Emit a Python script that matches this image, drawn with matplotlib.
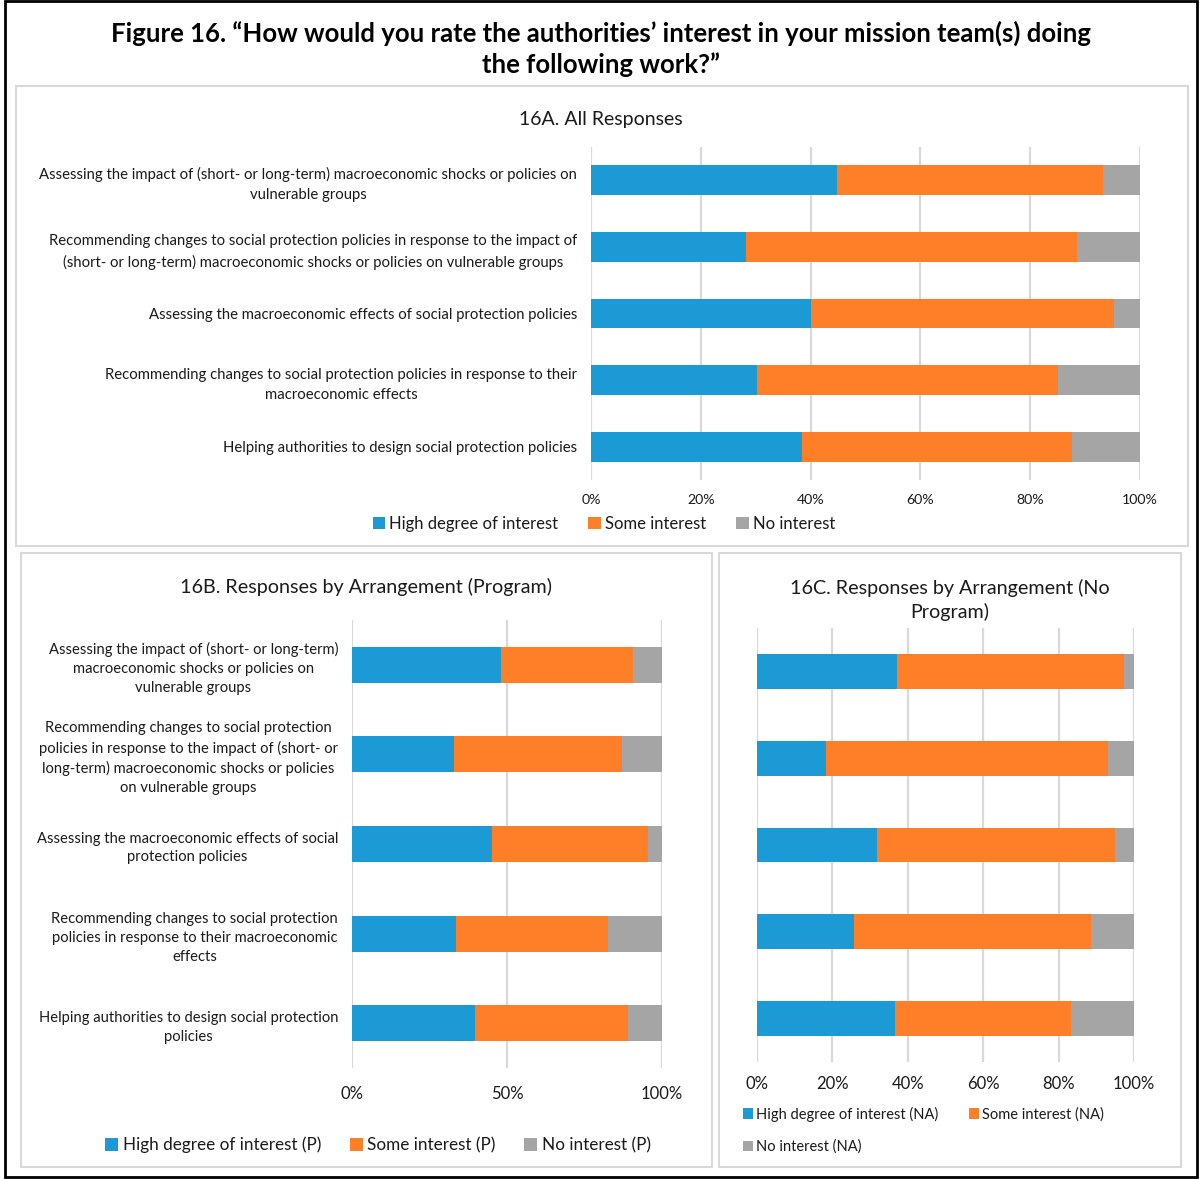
import matplotlib
matplotlib.use("Agg")
import matplotlib.pyplot as plt
from matplotlib.patches import Rectangle, Patch
import numpy as np

plt.rcParams['font.family'] = ['Lato', 'DejaVu Sans']

W, H = 1201, 1179

categories_a = [
    "Assessing the impact of (short- or long-term) macroeconomic shocks or policies on\nvulnerable groups",
    "Recommending changes to social protection policies in response to the impact of\n(short- or long-term) macroeconomic shocks or policies on vulnerable groups",
    "Assessing the macroeconomic effects of social protection policies",
    "Recommending changes to social protection policies in response to their\nmacroeconomic effects",
    "Helping authorities to design social protection policies",
]
categories_b = [
    "Assessing the impact of (short- or long-term)\nmacroeconomic shocks or policies on\nvulnerable groups",
    "Recommending changes to social protection\npolicies in response to the impact of (short- or\nlong-term) macroeconomic shocks or policies\non vulnerable groups",
    "Assessing the macroeconomic effects of social\nprotection policies",
    "Recommending changes to social protection\npolicies in response to their macroeconomic\neffects",
    "Helping authorities to design social protection\npolicies",
]

# Shares (%) per category
all_high = [44.8, 28.2, 40.0, 30.2, 38.5]
all_some = [48.5, 60.4, 55.3, 54.9, 49.1]
all_none = [6.7, 11.4, 4.7, 14.9, 12.4]

prog_high = [48.1, 32.9, 45.3, 33.5, 39.8]
prog_some = [42.7, 54.2, 50.1, 49.2, 49.1]
prog_none = [9.2, 12.9, 4.6, 17.3, 11.1]

noprog_high = [37.2, 18.4, 31.9, 25.8, 36.7]
noprog_some = [60.1, 74.8, 63.0, 62.9, 46.6]
noprog_none = [2.7, 6.8, 5.1, 11.3, 16.7]

series_names = ["High degree of interest", "Some interest", "No interest"]
colors = ["#1b9ad6", "#fe7f27", "#a5a5a5"]
grid_color = "#d9d9d9"
text_color = "#1a1a1a"

fig = plt.figure(figsize=(W / 100, H / 100), dpi=100)


def fx(x):
    return x / W


def fy(y):
    return 1 - y / H


def add_axes_px(left, top, right, bottom):
    return fig.add_axes([fx(left), fy(bottom), (right - left) / W, (bottom - top) / H])


def panel_box(left, top, right, bottom, color="#d9d9d9", lw=1.5):
    fig.patches.append(Rectangle((fx(left), fy(bottom)), (right - left) / W, (bottom - top) / H,
                                 transform=fig.transFigure, fill=False, edgecolor=color,
                                 linewidth=lw))


def stacked(ax, cats, high, some, none, ticks, tick_labels, label_size, tick_size, height,
            spacing, pad):
    y = np.arange(len(cats))
    left = np.zeros(len(cats))
    for vals, c in zip([high, some, none], colors):
        vals = np.array(vals)
        ax.barh(y, vals, left=left, height=height, color=c, zorder=3)
        left += vals
    ax.set_xlim(0, 100)
    ax.set_ylim(len(cats) - 0.5, -0.5)
    ax.set_yticks(y)
    ax.set_yticklabels(cats, fontsize=label_size, color=text_color, multialignment="center",
                       linespacing=spacing)
    ax.set_xticks(ticks)
    ax.set_xticklabels(tick_labels, fontsize=tick_size, color=text_color)
    ax.tick_params(axis="both", length=0)
    ax.tick_params(axis="y", pad=pad)
    ax.tick_params(axis="x", pad=10)
    for s in ax.spines.values():
        s.set_visible(False)
    for t in ticks:
        ax.axvline(t, color=grid_color, lw=1.6, zorder=1)


# Outer frame and title
panel_box(5, 1, 1197, 1177, color="black", lw=2)
fig.text(fx(601), fy(33), "Figure 16. \u201cHow would you rate the authorities\u2019 interest in your mission team(s) doing",
         ha="center", va="center", fontsize=18.5, fontweight="bold", color="black")
fig.text(fx(601), fy(65), "the following work?\u201d",
         ha="center", va="center", fontsize=18.5, fontweight="bold", color="black")

# Panel A
panel_box(16, 86, 1188, 546)
axa = add_axes_px(591, 147, 1140, 480)
stacked(axa, categories_a, all_high, all_some, all_none,
        [0, 20, 40, 60, 80, 100], ["0%", "20%", "40%", "60%", "80%", "100%"], 10.7, 10.2, 0.45,
        1.55, 10)
fig.text(fx(601), fy(120), "16A. All Responses", ha="center", va="center", fontsize=14, color=text_color)
handles_a = [Patch(facecolor=c, edgecolor="none") for c in colors]
fig.legend(handles_a, series_names, loc="center", bbox_to_anchor=(fx(604), fy(524)), ncol=3,
           frameon=False, fontsize=12, handlelength=0.75, handleheight=0.75, handletextpad=0.25,
           columnspacing=1.8, labelcolor=text_color)

# Panel B
panel_box(21, 553, 712, 1167)
axb = add_axes_px(352, 620, 662, 1068)
stacked(axb, categories_b, prog_high, prog_some, prog_none,
        [0, 50, 100], ["0%", "50%", "100%"], 10.6, 12, 0.4, 1.45, 10)
axb.tick_params(axis="x", pad=13)
fig.text(fx(366), fy(587), "16B. Responses by Arrangement (Program)", ha="center", va="center",
         fontsize=14.2, color=text_color)
fig.legend(handles_a, [n + " (P)" for n in series_names], loc="center",
           bbox_to_anchor=(fx(378), fy(1145)), ncol=3, frameon=False, fontsize=12.3,
           handlelength=0.75, handleheight=0.75, handletextpad=0.25, columnspacing=1.7,
           labelcolor=text_color)

# Panel C
panel_box(719, 553, 1181, 1167)
axc = add_axes_px(757, 628, 1134, 1062)
stacked(axc, [""] * 5, noprog_high, noprog_some, noprog_none,
        [0, 20, 40, 60, 80, 100], ["0%", "20%", "40%", "60%", "80%", "100%"], 10, 12, 0.4,
        1.2, 10)
fig.text(fx(950), fy(600), "16C. Responses by Arrangement (No\nProgram)", ha="center", va="center",
         fontsize=14.2, color=text_color, linespacing=1.4)
fig.legend(handles_a[:2], [n + " (NA)" for n in series_names[:2]], loc="center left",
           bbox_to_anchor=(fx(730), fy(1114)), ncol=2, frameon=False, fontsize=10.5,
           handlelength=0.7, handleheight=0.7, handletextpad=0.2, columnspacing=2.1,
           labelcolor=text_color)
fig.legend(handles_a[2:], [series_names[2] + " (NA)"], loc="center left",
           bbox_to_anchor=(fx(730), fy(1147)), ncol=1, frameon=False, fontsize=10.5,
           handlelength=0.7, handleheight=0.7, handletextpad=0.2, labelcolor=text_color)

fig.savefig("out.png", dpi=100, facecolor="white")
